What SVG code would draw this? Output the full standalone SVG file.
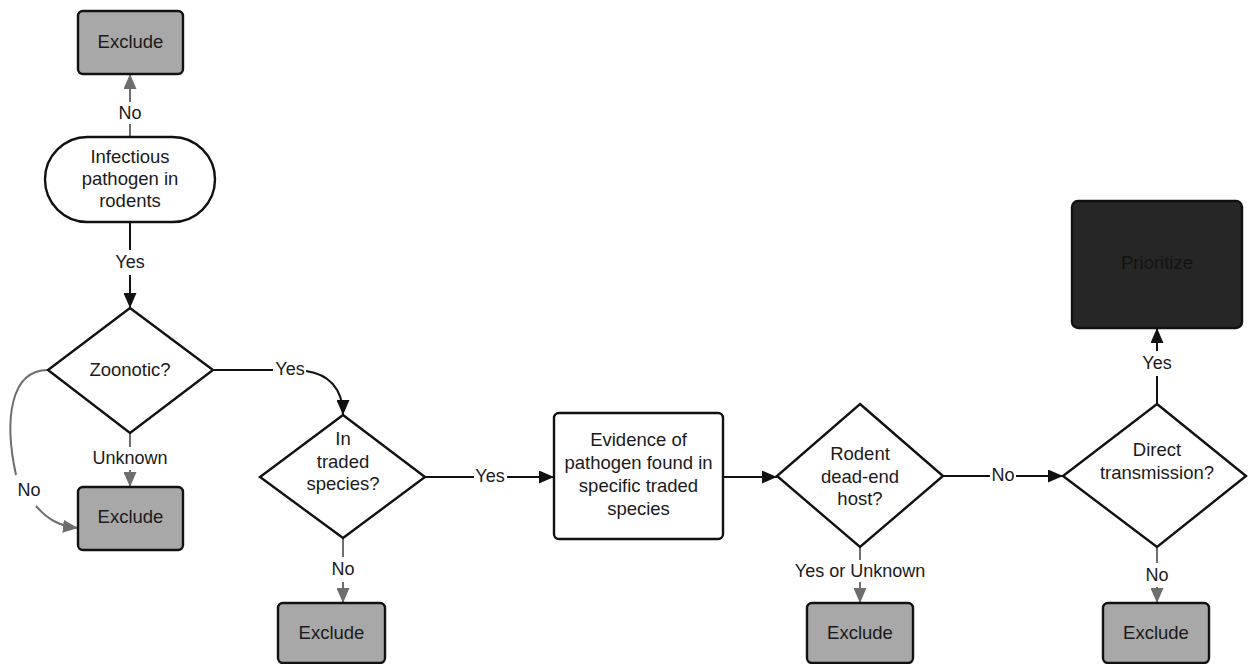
<svg xmlns="http://www.w3.org/2000/svg" width="1248" height="664" viewBox="0 0 1248 664">
<style>
text{font-family:"Liberation Sans",Arial,sans-serif;font-size:18.5px;fill:#1a1a1a;text-anchor:middle;dominant-baseline:central}
.node{fill:#fff;stroke:#111;stroke-width:2.4}
.ex{fill:#a8a8a8;stroke:#111;stroke-width:2.4}
.pr{fill:#262626;stroke:#111;stroke-width:2.4}
.prt{fill:#121212}
.c{fill:none;stroke:#111;stroke-width:2}
.g{fill:none;stroke:#6e6e6e;stroke-width:2}
.lb{font-size:18px}
</style>
<defs>
<marker id="ab" markerUnits="userSpaceOnUse" markerWidth="16" markerHeight="13" refX="15" refY="6.5" orient="auto"><path d="M0,0 L15,6.5 L0,13 z" fill="#111"/></marker>
<marker id="ag" markerUnits="userSpaceOnUse" markerWidth="16" markerHeight="13" refX="15" refY="6.5" orient="auto"><path d="M0,0 L15,6.5 L0,13 z" fill="#6e6e6e"/></marker>
</defs>
<rect width="1248" height="664" fill="#fff"/>
<g id="connectors">
<path class="g" d="M130,137 V124"/><path class="g" d="M130,102 V74" marker-end="url(#ag)"/>
<text class="lb" x="130" y="113">No</text>
<path class="c" d="M130,222 V250"/><path class="c" d="M130,275 V308" marker-end="url(#ab)"/>
<text class="lb" x="130" y="262">Yes</text>
<path class="c" d="M213,370 H273"/><path class="c" d="M306,371 C328,374 343,388 343,415" marker-end="url(#ab)"/>
<text class="lb" x="290" y="369">Yes</text>
<path class="g" d="M130,433 V447"/><path class="g" d="M130,470 V487" marker-end="url(#ag)"/>
<text class="lb" x="130" y="458">Unknown</text>
<path class="g" d="M48,370 C10,370 4,420 16,475"/><path class="g" d="M36,506 C48,520 60,526 78,528" marker-end="url(#ag)"/>
<text class="lb" x="29" y="490">No</text>
<path class="c" d="M425,477 H474"/><path class="c" d="M507,477 H554" marker-end="url(#ab)"/>
<text class="lb" x="490" y="476">Yes</text>
<path class="g" d="M343,538 V557"/><path class="g" d="M343,582 V603" marker-end="url(#ag)"/>
<text class="lb" x="343" y="569">No</text>
<path class="c" d="M723,477 H777" marker-end="url(#ab)"/>
<path class="c" d="M943,476 H990"/><path class="c" d="M1016,476 H1063" marker-end="url(#ab)"/>
<text class="lb" x="1003" y="475">No</text>
<path class="g" d="M860,547 V560"/><path class="g" d="M860,582 V603" marker-end="url(#ag)"/>
<text class="lb" x="860" y="571">Yes or Unknown</text>
<path class="c" d="M1157,404 V376"/><path class="c" d="M1157,351 V328" marker-end="url(#ab)"/>
<text class="lb" x="1157" y="363">Yes</text>
<path class="g" d="M1157,547 V563"/><path class="g" d="M1157,587 V603" marker-end="url(#ag)"/>
<text class="lb" x="1157" y="575">No</text>
</g>
<g id="exclude1"><rect class="ex" x="78" y="11" width="105" height="63" rx="5"/><text x="130.5" y="41">Exclude</text></g>
<g id="start"><rect class="node" x="45" y="137" width="170" height="85" rx="42.5"/><text x="130" y="156">Infectious</text><text x="130" y="178">pathogen in</text><text x="130" y="200">rodents</text></g>
<g id="zoonotic"><path class="node" d="M130,308 L213,370 L130,433 L48,370 Z"/><text x="130" y="369">Zoonotic?</text></g>
<g id="exclude2"><rect class="ex" x="78" y="487" width="105" height="63" rx="5"/><text x="130.5" y="516">Exclude</text></g>
<g id="traded"><path class="node" d="M343,415 L425,477 L343,538 L260,477 Z"/><text x="343" y="438">In</text><text x="343" y="461">traded</text><text x="343" y="483">species?</text></g>
<g id="exclude3"><rect class="ex" x="278" y="603" width="107" height="60" rx="5"/><text x="331.5" y="632">Exclude</text></g>
<g id="evidence"><rect class="node" x="554" y="413" width="169" height="126" rx="5"/><text x="638.5" y="439">Evidence of</text><text x="638.5" y="462">pathogen found in</text><text x="638.5" y="485">specific traded</text><text x="638.5" y="508">species</text></g>
<g id="deadend"><path class="node" d="M860,404 L943,476 L860,547 L777,476 Z"/><text x="860" y="453">Rodent</text><text x="860" y="476">dead-end</text><text x="860" y="498">host?</text></g>
<g id="exclude4"><rect class="ex" x="807" y="603" width="106" height="60" rx="5"/><text x="860" y="632">Exclude</text></g>
<g id="direct"><path class="node" d="M1157,404 L1246,476 L1157,547 L1063,476 Z"/><text x="1157" y="449">Direct</text><text x="1157" y="472">transmission?</text></g>
<g id="exclude5"><rect class="ex" x="1103" y="603" width="106" height="60" rx="5"/><text x="1156" y="632">Exclude</text></g>
<g id="prioritize"><rect class="pr" x="1072" y="201" width="170" height="127" rx="6"/><text class="prt" x="1157" y="262">Prioritize</text></g>
</svg>
